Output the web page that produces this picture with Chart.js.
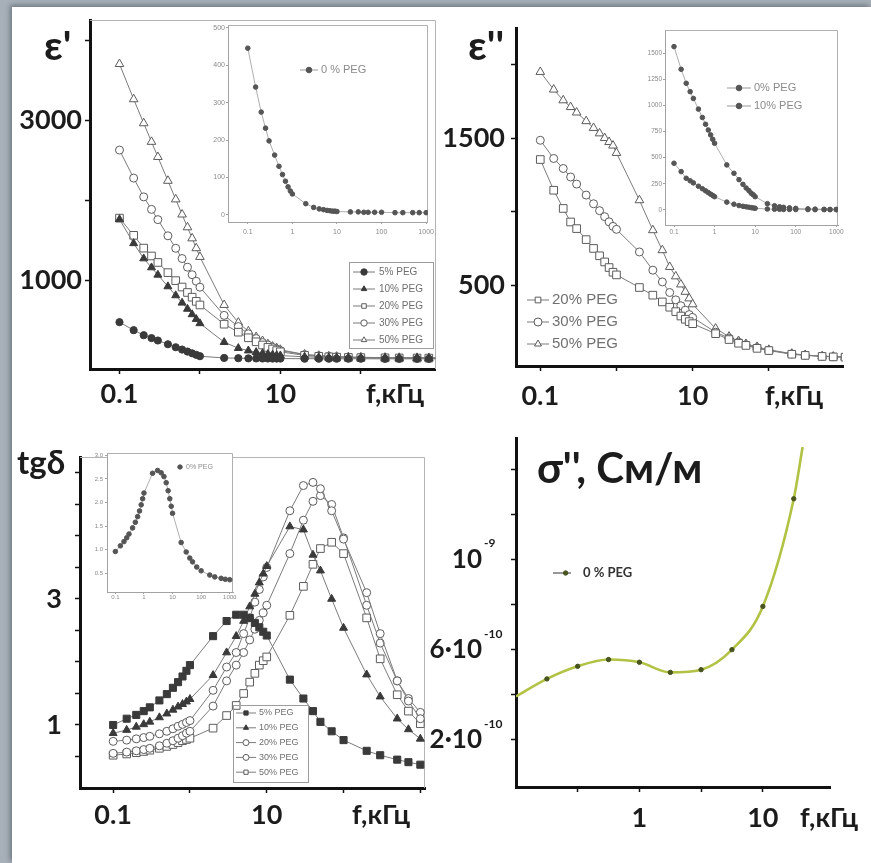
<!DOCTYPE html>
<html>
<head>
<meta charset="utf-8">
<title>PEG: ε', ε'', tgδ, σ''</title>
<script src="https://cdn.jsdelivr.net/npm/chart.js@4.4.1/dist/chart.umd.min.js"></script>
<style>
  html, body { margin: 0; padding: 0; }
  body { width: 871px; height: 863px; position: relative; overflow: hidden; background: #a7b0b8; }
  #sheet { position: absolute; left: 12px; top: 7px; right: 0; bottom: 0; background: #fff;
           box-shadow: -2px -2px 5px rgba(40, 50, 60, .45); }
  canvas { position: absolute; }
</style>
</head>
<body>
<div id="sheet"></div>
<canvas id="epsRe"   width="432" height="422" style="left:10px;top:0px"></canvas>
<canvas id="epsIm"   width="428" height="418" style="left:440px;top:4px"></canvas>
<canvas id="tanD"    width="430" height="424" style="left:10px;top:428px"></canvas>
<canvas id="sigma"   width="441" height="432" style="left:430px;top:420px"></canvas>
<canvas id="epsRe0"  width="242" height="226" style="left:196px;top:19px"></canvas>
<canvas id="epsIm0"  width="214" height="218" style="left:632px;top:24px"></canvas>
<canvas id="tanD0"   width="158" height="160" style="left:82px;top:447px"></canvas>
<script>
// ---- частоты измерений, кГц ----
const FREQ = [0.1, 0.15, 0.2, 0.25, 0.3, 0.4, 0.5, 0.6, 0.7, 0.8, 0.9, 1,
              2, 3, 4, 5, 6, 7, 8, 9, 10,
              20, 30, 40, 50, 70, 100, 200, 300, 500, 700, 1000];
const FREQ_SIGMA = [0.1, 0.178, 0.316, 0.562, 1, 1.78, 3.16, 5.62, 10, 17.8, 21];

// ---- ε' ----
const EPS1_5  = [475, 375, 312, 276, 246, 199, 162, 133, 108, 86, 67, 50,
                 28, 25, 23, 22, 21, 21, 20, 20, 20, 19, 19, 18, 18, 18, 18, 17, 17, 17, 17, 17];
const EPS1_10 = [1760, 1460, 1270, 1158, 1066, 921, 809, 717, 640, 572, 513, 460,
                 225, 150, 120, 100, 85, 75, 68, 62, 58, 42, 36, 33, 31, 29, 28, 26, 25, 25, 24, 24];
const EPS1_20 = [1775, 1560, 1400, 1302, 1221, 1094, 994, 914, 846, 787, 735, 690,
                 450, 350, 280, 230, 190, 160, 140, 120, 105, 60, 48, 42, 38, 34, 32, 29, 28, 27, 26, 26];
const EPS1_30 = [2625, 2275, 2040, 1884, 1756, 1554, 1398, 1270, 1162, 1068, 986, 912,
                 560, 420, 330, 270, 220, 190, 160, 140, 120, 70, 55, 48, 43, 38, 35, 31, 29, 28, 27, 27];
const EPS1_50 = [3700, 3260, 2960, 2728, 2539, 2241, 2009, 1820, 1660, 1522, 1399, 1290,
                 690, 470, 360, 290, 240, 200, 170, 150, 130, 72, 56, 49, 44, 39, 36, 32, 30, 29, 28, 28];
const EPS1_0  = [446, 342, 275, 232, 198, 160, 130, 108, 90, 75, 64, 56,
                 30, 20, 16, 14, 12, 11, 10, 10, 9, 8, 8, 7, 7, 7, 7, 6, 6, 6, 6, 6];

// ---- ε'' ----
const EPS2_20 = [1355, 1146, 1022, 930, 885, 810, 750, 700, 658, 620, 588, 570,
                 484, 432, 386, 350, 320, 290, 268, 252, 238, 170, 130, 105, 90, 70, 55, 30, 22, 15, 12, 10];
const EPS2_30 = [1486, 1362, 1294, 1236, 1188, 1113, 1054, 1007, 966, 931, 900, 880,
                 726, 602, 522, 450, 400, 360, 330, 300, 280, 180, 140, 112, 95, 75, 58, 32, 24, 16, 13, 11];
const EPS2_50 = [1951, 1831, 1758, 1712, 1675, 1616, 1570, 1533, 1501, 1474, 1450, 1400,
                 1078, 874, 738, 624, 560, 505, 455, 410, 370, 205, 150, 120, 100, 80, 60, 34, 25, 17, 14, 12];
const EPS2_0  = [447, 367, 303, 279, 259, 227, 203, 183, 166, 151, 139, 127,
                 75, 55, 42, 35, 30, 26, 22, 19, 16, 9, 7, 6, 5, 5, 4, 4, 3, 3, 3, 3];
const EPS2_10 = [1563, 1346, 1212, 1132, 1067, 965, 885, 820, 765, 718, 676, 638,
                 431, 351, 290, 245, 210, 185, 160, 145, 127, 60, 40, 30, 25, 20, 15, 10, 8, 6, 5, 5];

// ---- tgδ ----
const TG_5  = [1.00, 1.10, 1.16, 1.22, 1.28, 1.39, 1.49, 1.59, 1.68, 1.77, 1.86, 1.95,
               2.41, 2.65, 2.75, 2.75, 2.70, 2.62, 2.55, 2.48, 2.42,
               1.72, 1.42, 1.22, 1.05, 0.90, 0.76, 0.59, 0.52, 0.45, 0.41, 0.37];
const TG_10 = [0.87, 0.92, 0.97, 1.01, 1.05, 1.12, 1.18, 1.24, 1.29, 1.33, 1.37, 1.41,
               1.79, 2.15, 2.41, 2.65, 2.88, 3.08, 3.26, 3.40, 3.52,
               4.15, 4.10, 3.70, 3.45, 3.00, 2.54, 1.80, 1.45, 1.10, 0.93, 0.78];
const TG_20 = [0.74, 0.76, 0.78, 0.80, 0.82, 0.86, 0.90, 0.94, 0.98, 1.01, 1.04, 1.07,
               1.55, 1.92, 2.15, 2.45, 2.70, 2.95, 3.15, 3.35, 3.50,
               4.40, 4.80, 4.85, 4.75, 4.40, 3.95, 3.10, 2.45, 1.70, 1.38, 1.10];
const TG_30 = [0.55, 0.57, 0.59, 0.61, 0.63, 0.67, 0.71, 0.75, 0.79, 0.83, 0.87, 0.90,
               1.30, 1.70, 1.95, 2.15, 2.35, 2.52, 2.66, 2.78, 2.90,
               3.72, 4.25, 4.55, 4.64, 4.50, 3.97, 2.90, 2.30, 1.70, 1.42, 1.20];
const TG_50 = [0.52, 0.54, 0.56, 0.58, 0.60, 0.63, 0.66, 0.69, 0.72, 0.75, 0.77, 0.79,
               0.95, 1.15, 1.31, 1.50, 1.68, 1.82, 1.95, 2.02, 2.08,
               2.74, 3.20, 3.55, 3.80, 3.90, 3.72, 2.70, 2.05, 1.48, 1.22, 1.02];
const TG_0  = [0.96, 1.08, 1.17, 1.25, 1.33, 1.46, 1.58, 1.70, 1.82, 1.95, 2.08, 2.20,
               2.62, 2.68, 2.63, 2.55, 2.42, 2.25, 2.08, 1.92, 1.77,
               1.15, 0.95, 0.82, 0.74, 0.63, 0.55, 0.46, 0.42, 0.39, 0.37, 0.36];

// ---- σ'', См/м ----
const SIGMA_0 = [3.92e-10, 4.70e-10, 5.26e-10, 5.56e-10, 5.44e-10, 4.99e-10,
                 5.11e-10, 6.00e-10, 7.92e-10, 12.7e-10, 15.0e-10];

// ---- деления и подписи осей ----
const X_DECADES    = [0.1, 1, 10, 100];
const X_DECADES_3  = [0.1, 1, 10, 100, 1000];
const X_MAIN_LBL   = [0.1, 10];
const EPS1_Y_TICKS = [1000, 2000, 3000, 4000];
const EPS1_Y_LBL   = [1000, 3000];
const EPS2_Y_TICKS = [500, 1000, 1500, 2000];
const EPS2_Y_LBL   = [500, 1500];
const TG_Y_TICKS   = [0.5, 1, 1.5, 2, 2.5, 3, 3.5, 4, 4.5, 5];
const TG_Y_LBL     = [1, 3];
const SIG_X_TICKS  = [0.316, 1, 3.16, 10];
const SIG_X_LBL    = [1, 10];
const SIG_Y_TICKS  = [2e-10, 4e-10, 6e-10, 8e-10, 1e-9, 1.2e-9, 1.4e-9];
const SIG_Y_LBL    = [[2e-10, '2·10', '-10'], [6e-10, '6·10', '-10'], [1e-9, '10', '-9']];
const INS1_Y_TICKS = [0, 100, 200, 300, 400, 500];
const INS2_Y_TICKS = [0, 250, 500, 750, 1000, 1250, 1500];
const INS3_Y_TICKS = [0.5, 1, 1.5, 2, 2.5, 3];
const PEG5 = ['5% PEG', '10% PEG', '20% PEG', '30% PEG', '50% PEG'];
const PEG3 = ['20% PEG', '30% PEG', '50% PEG'];

// ---- оформление ----
const FONT  = 'Lato, "Open Sans", "DejaVu Sans", sans-serif';
const SMALL = '"Liberation Sans", Arial, sans-serif';
const INK   = '#1c1c1c';
const BIG   = { family: FONT, size: 27, weight: 'bold' };

Chart.defaults.animation = false;
Chart.defaults.responsive = false;
Chart.defaults.events = [];
Chart.defaults.plugins.legend.display = false;
Chart.defaults.plugins.tooltip.enabled = false;

const MARK = {
  dotFill:  { pointStyle: 'circle',   fill: '#3a3a3a', stroke: '#3a3a3a', r: 3.6 },
  triFill:  { pointStyle: 'triangle', fill: '#3a3a3a', stroke: '#3a3a3a', r: 4.6 },
  sqFill:   { pointStyle: 'rect',     fill: '#3a3a3a', stroke: '#3a3a3a', r: 5 },
  sqOpen:   { pointStyle: 'rect',     fill: '#fff',    stroke: '#5c5c5c', r: 5.4 },
  dotOpen:  { pointStyle: 'circle',   fill: '#fff',    stroke: '#5c5c5c', r: 4 },
  triOpen:  { pointStyle: 'triangle', fill: '#fff',    stroke: '#5c5c5c', r: 5 },
  inset:    { pointStyle: 'circle',   fill: '#555',    stroke: '#555',    r: 2.3, line: '#999', lw: 0.8 }
};

function series(label, values, st, xs = FREQ) {
  return {
    label,
    data: xs.map((f, i) => ({ x: f, y: values[i] })),
    borderColor: st.line || '#7b7b7b',
    borderWidth: st.lw || 1,
    pointStyle: st.pointStyle,
    pointRadius: st.r,
    pointBackgroundColor: st.fill,
    pointBorderColor: st.stroke,
    pointBorderWidth: 1,
    tension: 0
  };
}

function xAxis(o) {
  return {
    type: o.type || 'logarithmic', min: o.min, max: o.max,
    afterBuildTicks: s => { s.ticks = o.ticks.map(v => ({ value: v })); },
    afterFit: s => { s.height = o.size; },
    grid: { display: true, drawOnChartArea: false, drawTicks: true,
            tickLength: o.tl, tickWidth: o.tw || 1.5, tickColor: o.color },
    border: { display: true, color: o.color, width: o.bw },
    ticks: { autoSkip: false, maxRotation: 0, padding: o.pad, color: o.text, font: o.font,
             callback: v => o.labels.includes(v) ? String(v) : '' }
  };
}

function yAxis(o) {
  return {
    type: 'linear', min: o.min, max: o.max,
    afterBuildTicks: s => { s.ticks = o.ticks.map(v => ({ value: v })); },
    afterFit: s => { s.width = o.size; },
    grid: { display: true, drawOnChartArea: false, drawTicks: true,
            tickLength: o.tl, tickWidth: o.tw || 1.5, tickColor: o.color },
    border: { display: true, color: o.color, width: o.bw },
    ticks: { autoSkip: false, padding: o.pad, color: o.text, font: o.font,
             callback: v => o.labels.includes(v) ? (o.fmt ? o.fmt(v) : String(v)) : '' }
  };
}

// рамка, подписи, легенда — координаты в пикселях страницы
function deco(cfg) {
  return {
    id: 'deco',
    beforeDraw(chart) {
      const a = chart.chartArea, ctx = chart.ctx;
      if (cfg.areaFill) {
        ctx.save();
        ctx.fillStyle = cfg.areaFill;
        ctx.fillRect(a.left, a.top, a.right - a.left, a.bottom - a.top);
        ctx.restore();
      }
    },
    beforeDatasetsDraw(chart) {
      if (!cfg.frame) return;
      const a = chart.chartArea, ctx = chart.ctx;
      ctx.save();
      ctx.strokeStyle = cfg.frame;
      ctx.lineWidth = 1;
      ctx.beginPath();
      ctx.moveTo(a.left, Math.round(a.top) + 0.5);
      ctx.lineTo(Math.round(a.right) - 0.5, Math.round(a.top) + 0.5);
      ctx.lineTo(Math.round(a.right) - 0.5, a.bottom);
      ctx.stroke();
      ctx.restore();
    },
    afterDraw(chart) {
      const ctx = chart.ctx;
      const ox = chart.canvas.offsetLeft, oy = chart.canvas.offsetTop;
      ctx.save();
      (cfg.texts || []).forEach(t => {
        ctx.font = t.font;
        ctx.fillStyle = t.color || INK;
        ctx.textAlign = t.align || 'left';
        ctx.textBaseline = t.base || 'alphabetic';
        ctx.fillText(t.text, t.x - ox, t.y - oy);
      });
      if (cfg.powers) {
        const ys = chart.scales.y;
        ctx.fillStyle = INK;
        ctx.textBaseline = 'middle';
        cfg.powers.labels.forEach(([v, base, exp]) => {
          const py = ys.getPixelForValue(v);
          ctx.font = cfg.powers.font;
          ctx.textAlign = 'right';
          ctx.fillText(base, cfg.powers.x - ox, py);
          ctx.font = cfg.powers.expFont;
          ctx.textAlign = 'left';
          ctx.fillText(exp, cfg.powers.x + 2 - ox, py - 16);
        });
      }
      const L = cfg.legend;
      if (L) {
        if (L.box) {
          ctx.strokeStyle = '#9c9c9c';
          ctx.lineWidth = 1;
          ctx.strokeRect(L.box[0] - ox + 0.5, L.box[1] - oy + 0.5, L.box[2], L.box[3]);
        }
        ctx.font = L.font;
        ctx.textAlign = 'left';
        ctx.textBaseline = 'middle';
        chart.data.datasets.forEach((ds, i) => {
          const x = L.x - ox, y = L.y + i * (L.dy || 0) - oy;
          if (L.lineW) {
            ctx.strokeStyle = L.lineColor || ds.borderColor;
            ctx.lineWidth = 1;
            ctx.beginPath();
            ctx.moveTo(x, y);
            ctx.lineTo(x + L.lineW, y);
            ctx.stroke();
          }
          ctx.fillStyle = ds.pointBackgroundColor;
          ctx.strokeStyle = ds.pointBorderColor;
          Chart.helpers.drawPoint(ctx, { pointStyle: ds.pointStyle, radius: L.r, rotation: 0, borderWidth: 1 },
                                  x + L.lineW * (L.at || 0.5), y);
          ctx.fillStyle = L.color;
          ctx.fillText(ds.label, x + L.lineW + L.gap, y);
        });
      }
      ctx.restore();
    }
  };
}

function draw(id, datasets, scales, layoutPad, decoCfg) {
  return new Chart(document.getElementById(id), {
    type: 'line',
    data: { datasets },
    options: { devicePixelRatio: 1, layout: { padding: layoutPad }, scales },
    plugins: [deco(decoCfg)]
  });
}

// главные оси: жирные чёрные линии, крупные подписи
const mainAxis = { color: '#111', text: INK, bw: 3, tl: 5, font: BIG };
// оси вставок: тонкие серые, мелкие подписи
const insetAxis = (size) => ({ color: '#a2a2a2', text: '#8a8a8a', bw: 1, tw: 1, tl: 2,
                               font: { family: SMALL, size } });

// 1. ε'(f)
draw('epsRe',
  [series(PEG5[0], EPS1_5, MARK.dotFill), series(PEG5[1], EPS1_10, MARK.triFill),
   series(PEG5[2], EPS1_20, MARK.sqOpen), series(PEG5[3], EPS1_30, MARK.dotOpen),
   series(PEG5[4], EPS1_50, MARK.triOpen)],
  { x: xAxis({ ...mainAxis, min: 0.043, max: 850, ticks: X_DECADES, labels: X_MAIN_LBL, size: 53, pad: 4 }),
    y: yAxis({ ...mainAxis, min: -110, max: 4250, ticks: EPS1_Y_TICKS, labels: EPS1_Y_LBL, size: 80, pad: 3 }) },
  { top: 20, right: 4 },
  { frame: '#b4b4b4',
    texts: [{ text: "ε'", x: 44, y: 60, font: `bold 41px ${FONT}` },
            { text: 'f,кГц', x: 366, y: 394, font: `bold 27px ${FONT}`, base: 'middle' }],
    legend: { x: 353, y: 272, dy: 17, lineW: 22, gap: 4, r: 3.2, box: [349, 262, 84, 86],
              font: `10px ${SMALL}`, color: '#6e6e6e' } });

// 2. ε''(f)
draw('epsIm',
  [series(PEG3[0], EPS2_20, MARK.sqOpen), series(PEG3[1], EPS2_30, MARK.dotOpen),
   series(PEG3[2], EPS2_50, MARK.triOpen)],
  { x: xAxis({ ...mainAxis, min: 0.048, max: 940, ticks: X_DECADES, labels: X_MAIN_LBL, size: 56, pad: 9 }),
    y: yAxis({ ...mainAxis, min: -50, max: 2250, ticks: EPS2_Y_TICKS, labels: EPS2_Y_LBL, size: 76, pad: 6 }) },
  { top: 24, right: 25 },
  { texts: [{ text: "ε''", x: 468, y: 60, font: `bold 41px ${FONT}` },
            { text: 'f,кГц', x: 765, y: 396, font: `bold 27px ${FONT}`, base: 'middle' }],
    legend: { x: 527, y: 300, dy: 22, lineW: 22, gap: 3, r: 4, font: `15px ${SMALL}`, color: '#707070' } });

// 3. tgδ(f)
draw('tanD',
  [series(PEG5[0], TG_5, MARK.sqFill), series(PEG5[1], TG_10, MARK.triFill),
   series(PEG5[2], TG_20, MARK.dotOpen), series(PEG5[3], TG_30, MARK.dotOpen),
   series(PEG5[4], TG_50, MARK.sqOpen)],
  { x: xAxis({ ...mainAxis, min: 0.037, max: 1150, ticks: X_DECADES_3, labels: X_MAIN_LBL, size: 64, pad: 6 }),
    y: yAxis({ ...mainAxis, min: 0, max: 5.25, ticks: TG_Y_TICKS, labels: TG_Y_LBL, size: 70, pad: 13 }) },
  { top: 19, right: 15 },
  { frame: '#b4b4b4',
    texts: [{ text: 'tgδ', x: 17, y: 474, font: `bold 33px ${FONT}` },
            { text: 'f,кГц', x: 352, y: 815, font: `bold 27px ${FONT}`, base: 'middle' }],
    legend: { x: 236, y: 713, dy: 14.8, lineW: 20, gap: 3, r: 3, box: [233, 705, 75, 77],
              font: `9px ${SMALL}`, color: '#6e6e6e' } });

// 4. σ''(f)
draw('sigma',
  [{ ...series('0 % PEG', SIGMA_0, { pointStyle: 'circle', fill: '#48541e', stroke: '#48541e', r: 2.2,
                                    line: '#b2c244', lw: 2.6 }, FREQ_SIGMA),
     pointRadius: FREQ_SIGMA.map((_, i) => (i === 0 || i === FREQ_SIGMA.length - 1) ? 0 : 2.2),
     cubicInterpolationMode: 'monotone' }],
  { x: xAxis({ ...mainAxis, min: 0.1, max: 35, ticks: SIG_X_TICKS, labels: SIG_X_LBL, size: 65, pad: 10 }),
    y: yAxis({ ...mainAxis, min: -0.1e-10, max: 15.4e-10, ticks: SIG_Y_TICKS, labels: [], size: 86, pad: 3,
               font: { family: FONT, size: 10 } }) },
  { top: 18, right: 41 },
  { texts: [{ text: "σ'', См/м", x: 537, y: 483, font: `bold 42px ${FONT}` },
            { text: 'f,кГц', x: 800, y: 818, font: `bold 27px ${FONT}`, base: 'middle' }],
    powers: { x: 482, labels: SIG_Y_LBL, font: `bold 26px ${FONT}`, expFont: `bold 12px ${FONT}` },
    legend: { x: 553, y: 573, lineW: 18, gap: 12, r: 2.2, at: 0.7, lineColor: '#333',
              font: `bold 13px ${FONT}`, color: '#333' } });

// вставка к ε': 0 % PEG
draw('epsRe0',
  [series('0 % PEG', EPS1_0, MARK.inset)],
  { x: xAxis({ ...insetAxis(7), min: 0.036, max: 1090, ticks: X_DECADES_3, labels: X_DECADES_3, size: 23, pad: 4 }),
    y: yAxis({ ...insetAxis(7), min: -19, max: 508, ticks: INS1_Y_TICKS, labels: INS1_Y_TICKS, size: 32, pad: 1 }) },
  { top: 6, right: 8 },
  { areaFill: '#fff', frame: '#b0b0b0',
    legend: { x: 300, y: 70, lineW: 18, gap: 3, r: 2.8, font: `11px ${SMALL}`, color: '#8a8a8a' } });

// вставка к ε'': 0 % и 10 % PEG
draw('epsIm0',
  [series('0% PEG', EPS2_0, MARK.inset), series('10% PEG', EPS2_10, MARK.inset)],
  { x: xAxis({ ...insetAxis(6.5), min: 0.06, max: 1100, ticks: X_DECADES_3, labels: X_DECADES_3, size: 17, pad: 1 }),
    y: yAxis({ ...insetAxis(6.5), min: -144, max: 1722, ticks: INS2_Y_TICKS, labels: INS2_Y_TICKS, size: 33, pad: 1 }) },
  { top: 6, right: 8 },
  { areaFill: '#fff', frame: '#b0b0b0',
    legend: { x: 727, y: 88, dy: 18, lineW: 24, gap: 3, r: 2.8, font: `11px ${SMALL}`, color: '#8a8a8a' } });

// вставка к tgδ: 0 % PEG
draw('tanD0',
  [series('0% PEG', TG_0, MARK.inset)],
  { x: xAxis({ ...insetAxis(6), min: 0.051, max: 1300, ticks: X_DECADES_3, labels: X_DECADES_3, size: 15, pad: 0 }),
    y: yAxis({ ...insetAxis(6), min: 0.1, max: 3.05, ticks: INS3_Y_TICKS, labels: INS3_Y_TICKS, size: 25, pad: 2,
               fmt: v => v.toFixed(1) }) },
  { top: 6, right: 7 },
  { areaFill: '#fff', frame: '#b0b0b0',
    legend: { x: 177, y: 467, lineW: 6, gap: 3, r: 2.2, font: `7px ${SMALL}`, color: '#8a8a8a' } });
</script>
</body>
</html>
